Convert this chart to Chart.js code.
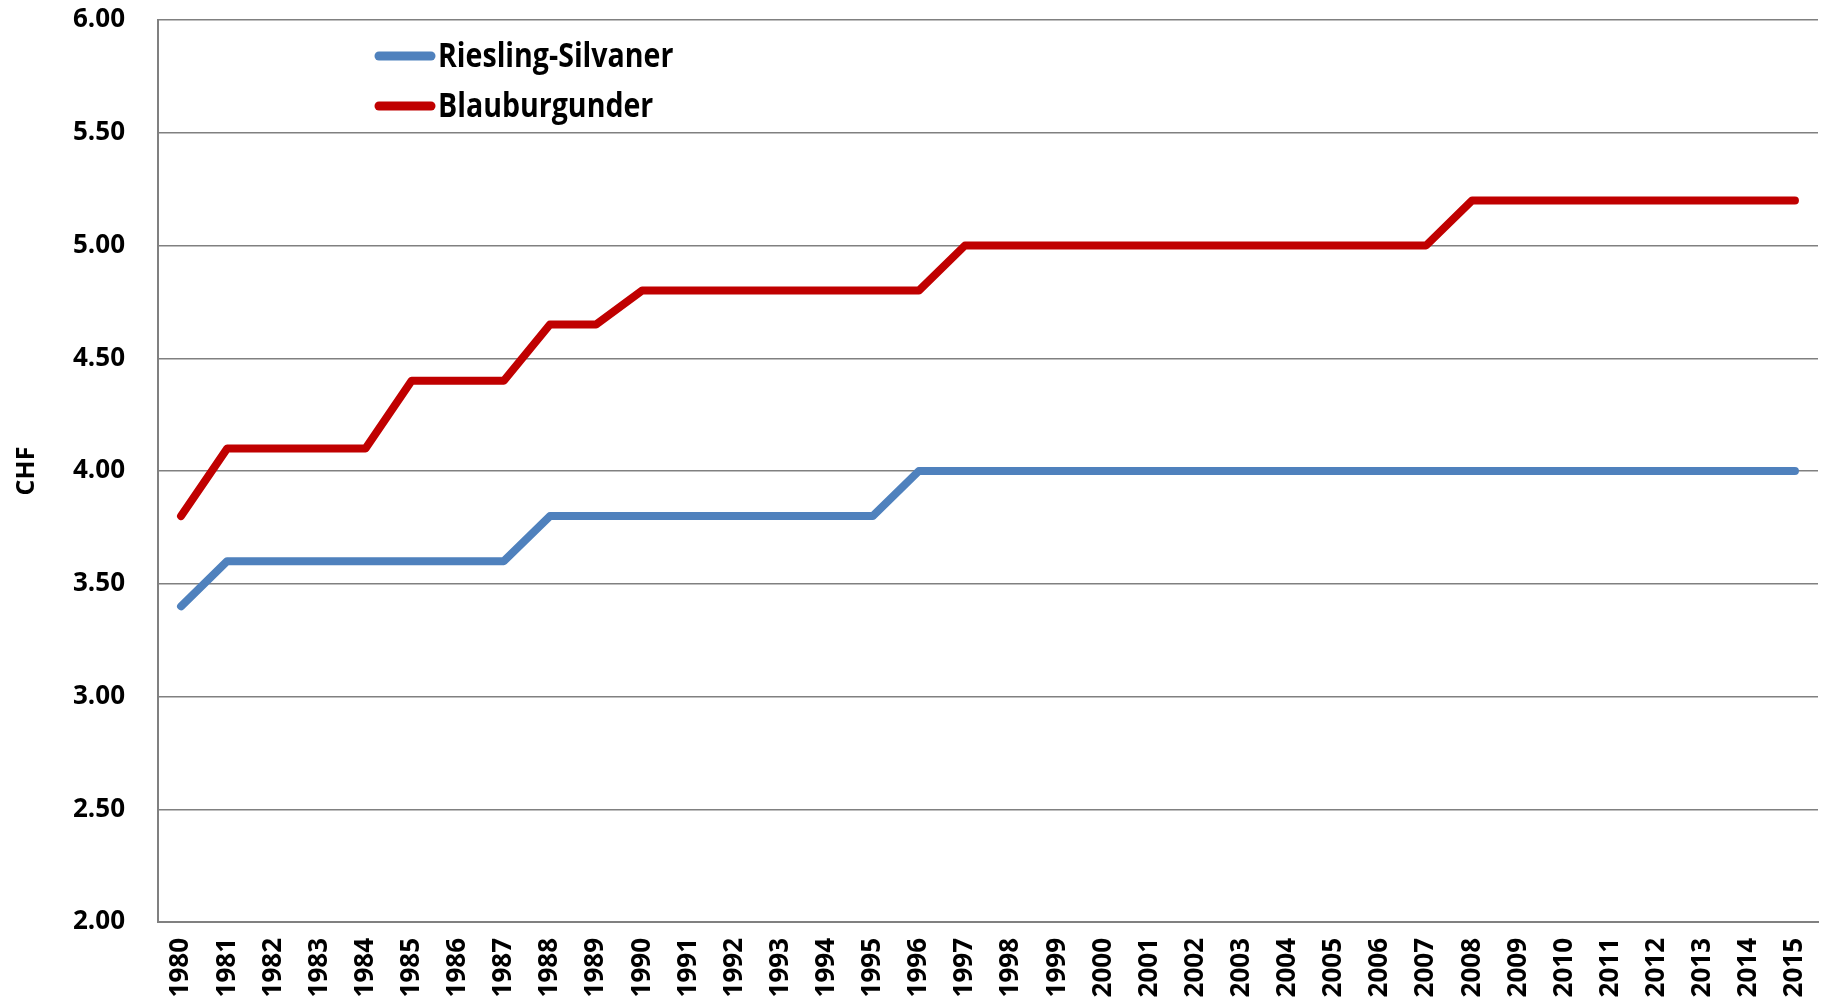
<!DOCTYPE html>
<html>
<head>
<meta charset="utf-8">
<script src="https://cdn.jsdelivr.net/npm/chart.js@4.4.0/dist/chart.umd.min.js"></script>
<style>
  html, body { margin: 0; padding: 0; background: #fff; }
  #wrap { width: 1821px; height: 1004px; }
</style>
</head>
<body>
<div id="wrap"><canvas id="priceChart" width="1821" height="1004"></canvas></div>
<script>
var years = ['1980', '1981', '1982', '1983', '1984', '1985', '1986', '1987', '1988', '1989',
             '1990', '1991', '1992', '1993', '1994', '1995', '1996', '1997', '1998', '1999',
             '2000', '2001', '2002', '2003', '2004', '2005', '2006', '2007', '2008', '2009',
             '2010', '2011', '2012', '2013', '2014', '2015'];
var riesling = [3.40, 3.60, 3.60, 3.60, 3.60, 3.60, 3.60, 3.60, 3.80, 3.80,
                3.80, 3.80, 3.80, 3.80, 3.80, 3.80, 4.00, 4.00, 4.00, 4.00,
                4.00, 4.00, 4.00, 4.00, 4.00, 4.00, 4.00, 4.00, 4.00, 4.00,
                4.00, 4.00, 4.00, 4.00, 4.00, 4.00];
var blauburgunder = [3.80, 4.10, 4.10, 4.10, 4.10, 4.40, 4.40, 4.40, 4.65, 4.65,
                     4.80, 4.80, 4.80, 4.80, 4.80, 4.80, 4.80, 5.00, 5.00, 5.00,
                     5.00, 5.00, 5.00, 5.00, 5.00, 5.00, 5.00, 5.00, 5.20, 5.20,
                     5.20, 5.20, 5.20, 5.20, 5.20, 5.20];
var seriesNames = ['Riesling-Silvaner', 'Blauburgunder'];
var yTicks = [2.00, 2.50, 3.00, 3.50, 4.00, 4.50, 5.00, 5.50, 6.00];

// legend drawn inside the plot area, top left (condensed look via horizontal scale)
var insideLegend = {
    id: 'insideLegend',
    afterDraw: function (chart) {
        var ctx = chart.ctx;
        var area = chart.chartArea;
        ctx.save();
        ctx.textBaseline = 'middle';
        chart.data.datasets.forEach(function (ds, i) {
            var y = area.top + 36 + i * 50;
            var x0 = area.left + 221;
            ctx.strokeStyle = ds.borderColor;
            ctx.lineWidth = 9;
            ctx.lineCap = 'round';
            ctx.beginPath();
            ctx.moveTo(x0, y);
            ctx.lineTo(x0 + 52, y);
            ctx.stroke();
            ctx.save();
            ctx.translate(x0 + 59, y + 1);
            ctx.scale(0.84, 1);
            ctx.font = 'bold 34px "Open Sans", sans-serif';
            ctx.fillStyle = '#000';
            ctx.fillText(ds.label, 0, 0);
            ctx.restore();
        });
        ctx.restore();
    }
};

document.addEventListener('DOMContentLoaded', function () {
    var ctx = document.getElementById('priceChart').getContext('2d');
    var priceChart = new Chart(ctx, {
        type: 'line',
        data: {
            labels: years,
            datasets: [{
                label: seriesNames[0],
                data: riesling,
                borderColor: '#4F81BD',
                backgroundColor: '#4F81BD',
                borderWidth: 8,
                borderCapStyle: 'round',
                borderJoinStyle: 'round',
                pointRadius: 0,
                tension: 0
            }, {
                label: seriesNames[1],
                data: blauburgunder,
                borderColor: '#C00000',
                backgroundColor: '#C00000',
                borderWidth: 8,
                borderCapStyle: 'round',
                borderJoinStyle: 'round',
                pointRadius: 0,
                tension: 0
            }]
        },
        options: {
            responsive: false,
            animation: false,
            layout: { padding: { top: 20, right: 3, left: 0, bottom: 0 } },
            plugins: {
                legend: { display: false },
                tooltip: { enabled: false }
            },
            scales: {
                x: {
                    offset: true,
                    grid: { display: false, drawTicks: false },
                    border: { display: true, color: '#808080', width: 2 },
                    ticks: {
                        color: '#000',
                        font: { family: '"Open Sans", "DejaVu Sans", sans-serif', size: 26, weight: 'bold' },
                        minRotation: 90,
                        maxRotation: 90,
                        autoSkip: false,
                        padding: 16
                    },
                    afterFit: function (scale) {
                        scale.height = 82;
                        scale.paddingLeft = 0;
                        scale.paddingRight = 0;
                    }
                },
                y: {
                    min: 2,
                    max: 6,
                    afterBuildTicks: function (scale) {
                        scale.ticks = yTicks.map(function (v) { return { value: v }; });
                    },
                    grid: { color: '#808080', lineWidth: 1.5, drawTicks: false },
                    border: { display: true, color: '#808080', width: 2 },
                    ticks: {
                        color: '#000',
                        font: { family: '"Open Sans", "DejaVu Sans", sans-serif', size: 26, weight: 'bold' },
                        padding: 33,
                        callback: function (v) { return Number(v).toFixed(2); }
                    },
                    title: {
                        display: true,
                        text: 'CHF',
                        color: '#000',
                        font: { family: '"Open Sans", "DejaVu Sans", sans-serif', size: 25, weight: 'bold' },
                        padding: { top: 12, bottom: 0 }
                    },
                    afterFit: function (scale) {
                        scale.width = 158;
                        scale.paddingTop = 0;
                        scale.paddingBottom = 0;
                    }
                }
            }
        },
        plugins: [insideLegend]
    });
});
</script>
</body>
</html>
